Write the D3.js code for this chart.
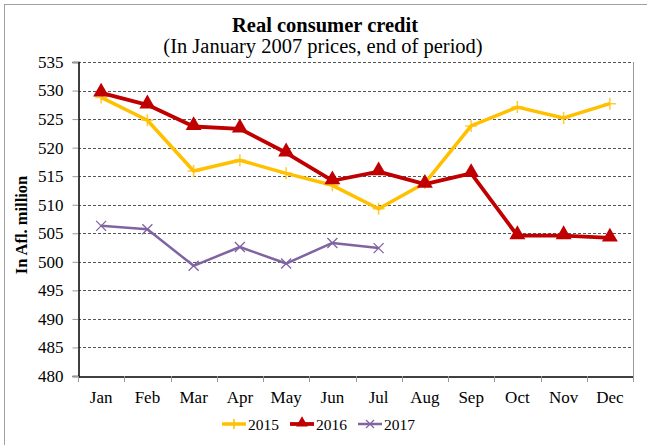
<!DOCTYPE html>
<html><head><meta charset="utf-8">
<script src="https://cdn.jsdelivr.net/npm/d3@7"></script>
<style>body{margin:0;background:#fff}svg{display:block}text{font-family:'Liberation Serif','Times New Roman',serif}</style>
</head><body>
<script>
const months = ["Jan","Feb","Mar","Apr","May","Jun","Jul","Aug","Sep","Oct","Nov","Dec"];
const s2015 = [528.8,524.8,515.9,517.8,515.5,513.4,509.3,513.8,523.8,527.1,525.2,527.7];
const s2016 = [529.6,527.5,523.7,523.3,519.1,514.2,515.8,513.6,515.5,504.6,504.6,504.2];
const s2017 = [506.3,505.7,499.3,502.6,499.7,503.3,502.4];
const yTicks = [480,485,490,495,500,505,510,515,520,525,530,535];
const seriesNames = ["2015","2016","2017"];

const W=647,H=445;
const svg=d3.select("body").append("svg").attr("width",W).attr("height",H);
const font="'Liberation Serif','Times New Roman',serif";
svg.append("rect").attr("x",4.5).attr("y",4.5).attr("width",W+20).attr("height",H+20).attr("fill","none").attr("stroke","#a0a0a0");

const L=78,R=633,T=62,B=376;
const x=d3.scaleBand().domain(months).range([L,R]);
const y=d3.scaleLinear().domain([480,535]).range([B,T]);

// gridlines
svg.append("g").selectAll("line").data(yTicks.filter(v=>v>480)).join("line")
 .attr("x1",L).attr("x2",R).attr("y1",d=>Math.round(y(d))+0.5).attr("y2",d=>Math.round(y(d))+0.5)
 .attr("stroke","#555").attr("stroke-dasharray","3,2").attr("stroke-width",1);
// right border
svg.append("line").attr("x1",R+0.5).attr("x2",R+0.5).attr("y1",T).attr("y2",B).attr("stroke","#999");

// y axis
const ya=svg.append("g").attr("transform",`translate(${L+0.5},0)`).call(d3.axisLeft(y).tickValues(yTicks).tickSize(6).tickPadding(9));
ya.attr("font-family",font).attr("font-size",17);
ya.select(".domain").attr("stroke","#000").attr("stroke-width",1.5);
ya.selectAll(".tick line").attr("stroke","#999");
ya.selectAll("text").style("font-family",font).style("font-size","17px").attr("fill","#000");

// x axis
const xa=svg.append("g").attr("transform",`translate(0,${B+0.5})`).call(d3.axisBottom(x).tickSize(0).tickPadding(14));
xa.attr("font-family",font).attr("font-size",17);
xa.select(".domain").attr("stroke","#000").attr("stroke-width",1.5);
xa.selectAll("text").style("font-family",font).style("font-size","17px").attr("fill","#000");
const bounds=months.map((m)=>x(m)).concat([R]);
svg.append("g").selectAll("line").data(bounds).join("line")
 .attr("x1",d=>Math.round(d)+0.5).attr("x2",d=>Math.round(d)+0.5).attr("y1",B).attr("y2",B+6).attr("stroke","#999");

const cx=(i)=>x(months[i])+x.bandwidth()/2;
const line=d3.line().x((d,i)=>cx(i)).y(d=>y(d));

// 2015
svg.append("path").attr("d",line(s2015)).attr("fill","none").attr("stroke","#FFC000").attr("stroke-width",3.5).attr("stroke-linejoin","round");
svg.append("g").selectAll("path").data(s2015).join("path")
 .attr("d",(d,i)=>`M${cx(i)-6},${y(d)}h12M${cx(i)},${y(d)-6}v12`).attr("stroke","#FFC000").attr("stroke-width",1.5).attr("opacity",0.8);
// 2016
svg.append("path").attr("d",line(s2016)).attr("fill","none").attr("stroke","#C00000").attr("stroke-width",3.8).attr("stroke-linejoin","round");
const tri=d3.symbol().type(d3.symbolTriangle).size(110);
svg.append("g").selectAll("path").data(s2016).join("path")
 .attr("transform",(d,i)=>`translate(${cx(i)},${y(d)-1})`).attr("d",tri()).attr("fill","#C00000");
// 2017
svg.append("path").attr("d",line(s2017)).attr("fill","none").attr("stroke","#8064A2").attr("stroke-width",2.5).attr("stroke-linejoin","round");
svg.append("g").selectAll("path").data(s2017).join("path")
 .attr("d",(d,i)=>`M${cx(i)-5},${y(d)-5}l10,10M${cx(i)-5},${y(d)+5}l10,-10`).attr("stroke","#8064A2").attr("stroke-width",1.3);

// titles
svg.append("text").attr("x",325).attr("y",32).attr("text-anchor","middle").style("font-family",font).attr("font-weight","bold").style("font-size","20.5px").text("Real consumer credit");
svg.append("text").attr("x",323).attr("y",53).attr("text-anchor","middle").style("font-family",font).style("font-size","20.5px").text("(In January 2007 prices, end of period)");
svg.append("text").attr("transform","translate(27,225) rotate(-90)").attr("text-anchor","middle").style("font-family",font).attr("font-weight","bold").style("font-size","16.5px").text("In Afl. million");

// legend
const leg=[{x:222,c:"#FFC000",w:3.5,m:"plus"},{x:290,c:"#C00000",w:3.8,m:"tri"},{x:358,c:"#8064A2",w:2.5,m:"x"}];
const lg=svg.append("g");
leg.forEach((l,i)=>{
  const ly=424;
  lg.append("line").attr("x1",l.x).attr("x2",l.x+24).attr("y1",ly).attr("y2",ly).attr("stroke",l.c).attr("stroke-width",l.w);
  const mx=l.x+12;
  if(l.m==="plus") lg.append("path").attr("d",`M${mx-5},${ly}h10M${mx},${ly-5}v10`).attr("stroke",l.c).attr("stroke-width",1.5);
  if(l.m==="tri") lg.append("path").attr("transform",`translate(${mx},${ly-1})`).attr("d",d3.symbol().type(d3.symbolTriangle).size(60)()).attr("fill",l.c);
  if(l.m==="x") lg.append("path").attr("d",`M${mx-4},${ly-4}l8,8M${mx-4},${ly+4}l8,-8`).attr("stroke",l.c).attr("stroke-width",1.2);
  lg.append("text").attr("x",l.x+26).attr("y",ly+5.5).style("font-family",font).style("font-size","15.5px").text(seriesNames[i]);
});
</script>
</body></html>
